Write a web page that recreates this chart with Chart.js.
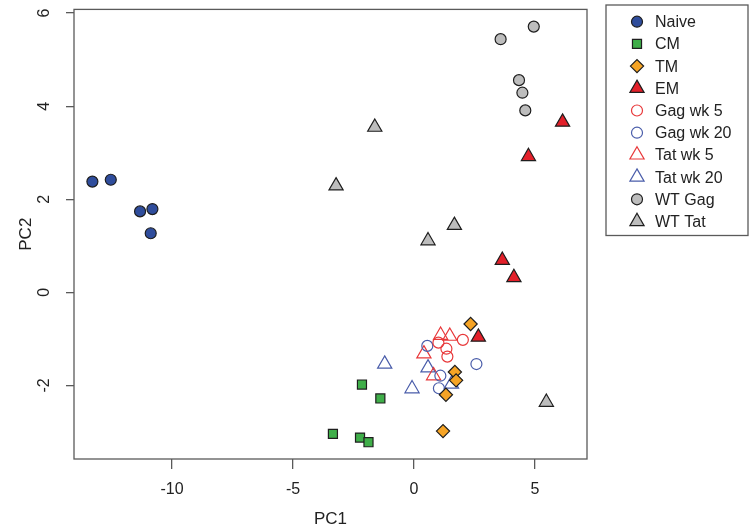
<!DOCTYPE html>
<html>
<head>
<meta charset="utf-8">
<script src="https://cdn.jsdelivr.net/npm/chart.js"></script>
<style>
  body { margin: 0; background: #fff; }
  #pca { display: block; }
</style>
</head>
<body>
<canvas id="pca" width="754" height="530"></canvas>
<script>
// ---------- DATA ----------
const groupNames = ["Naive", "CM", "TM", "EM", "Gag wk 5", "Gag wk 20", "Tat wk 5", "Tat wk 20", "WT Gag", "WT Tat"];

const naivePC1 = [-13.29, -12.53, -11.32, -10.81, -10.88];
const naivePC2 = [2.38, 2.42, 1.74, 1.79, 1.27];

const cmPC1 = [-2.15, -1.39, -3.35, -2.23, -1.88];
const cmPC2 = [-1.98, -2.28, -3.04, -3.12, -3.22];

const tmPC1 = [2.34, 1.69, 1.74, 1.32, 1.20];
const tmPC2 = [-0.68, -1.71, -1.89, -2.20, -2.98];

const emPC1 = [6.14, 4.73, 3.65, 4.13, 2.66];
const emPC2 = [3.66, 2.92, 0.69, 0.32, -0.96];

const gag5PC1 = [1.01, 1.34, 1.38, 2.02];
const gag5PC2 = [-1.08, -1.21, -1.38, -1.02];

const gag20PC1 = [0.55, 2.58, 1.09, 1.03];
const gag20PC2 = [-1.15, -1.54, -1.79, -2.06];

const tat5PC1 = [1.10, 1.48, 0.41, 0.81];
const tat5PC2 = [-0.92, -0.94, -1.32, -1.79];

const tat20PC1 = [-1.21, 0.58, -0.08, 1.55];
const tat20PC2 = [-1.54, -1.62, -2.07, -1.97];

const wtGagPC1 = [4.95, 3.58, 4.34, 4.48, 4.60];
const wtGagPC2 = [5.71, 5.44, 4.56, 4.29, 3.91];

const wtTatPC1 = [-1.62, -3.22, 1.67, 0.58, 5.47];
const wtTatPC2 = [3.55, 2.29, 1.44, 1.11, -2.36];

const xTicks = [-10, -5, 0, 5];
const yTicks = [-2, 0, 2, 4, 6];

// ---------- STYLE ----------
const FONT = "'Liberation Sans', Arial, Helvetica, sans-serif";
const EDGE = "#1e1e1e";
const AXIS = "#5a5a5a";

const styles = [
  { shape: "circle",   r: 5.5, fill: "#2f4d9c", stroke: EDGE },
  { shape: "rect",     r: 6.4, fill: "#3fae49", stroke: EDGE },
  { shape: "rectRot",  r: 6.6, fill: "#f6a425", stroke: EDGE },
  { shape: "triangle", r: 8.2, fill: "#e3202a", stroke: EDGE },
  { shape: "circle",   r: 5.5, fill: "rgba(0,0,0,0)", stroke: "#e8383a" },
  { shape: "circle",   r: 5.5, fill: "rgba(0,0,0,0)", stroke: "#4a5daa" },
  { shape: "triangle", r: 8.2, fill: "rgba(0,0,0,0)", stroke: "#e8383a" },
  { shape: "triangle", r: 8.2, fill: "rgba(0,0,0,0)", stroke: "#4a5daa" },
  { shape: "circle",   r: 5.5, fill: "#bdbdbd", stroke: EDGE },
  { shape: "triangle", r: 8.2, fill: "#bdbdbd", stroke: EDGE }
];

const xs = [naivePC1, cmPC1, tmPC1, emPC1, gag5PC1, gag20PC1, tat5PC1, tat20PC1, wtGagPC1, wtTatPC1];
const ys = [naivePC2, cmPC2, tmPC2, emPC2, gag5PC2, gag20PC2, tat5PC2, tat20PC2, wtGagPC2, wtTatPC2];

// open symbols sit underneath the filled ones
const drawOrder = [0, 0, 0, 0, 1, 1, 1, 1, 0, 0];

const datasets = groupNames.map((name, i) => ({
  label: name,
  data: xs[i].map((x, k) => ({ x, y: ys[i][k] })),
  pointStyle: styles[i].shape,
  pointRadius: styles[i].r,
  pointHoverRadius: styles[i].r,
  pointBackgroundColor: styles[i].fill,
  pointBorderColor: styles[i].stroke,
  pointBorderWidth: 1.2,
  order: drawOrder[i]
}));

// ---------- PLUGINS ----------
// R-style box around the plot region
const frame = {
  id: "frame",
  afterDatasetsDraw(chart) {
    const { ctx, chartArea: a } = chart;
    ctx.save();
    ctx.strokeStyle = AXIS;
    ctx.lineWidth = 1.3;
    ctx.strokeRect(a.left, a.top, a.right - a.left, a.bottom - a.top);
    ctx.restore();
  }
};

// boxed legend to the right, like base R legend()
const boxLegend = {
  id: "boxLegend",
  afterDraw(chart) {
    const ctx = chart.ctx;
    const left = 606, top = 5, right = 748, rowH = 22.2, firstRow = 21.7;
    const bottom = firstRow + rowH * (groupNames.length - 1) + 14;
    ctx.save();
    ctx.strokeStyle = AXIS;
    ctx.lineWidth = 1.3;
    ctx.strokeRect(left, top, right - left, bottom - top);
    ctx.font = "16px " + FONT;
    ctx.textBaseline = "middle";
    ctx.textAlign = "left";
    groupNames.forEach((name, i) => {
      const y = firstRow + rowH * i;
      ctx.fillStyle = styles[i].fill;
      ctx.strokeStyle = styles[i].stroke;
      ctx.lineWidth = 1.2;
      Chart.helpers.drawPoint(ctx, {
        pointStyle: styles[i].shape,
        radius: styles[i].r,
        rotation: 0,
        borderWidth: 1.2
      }, 637, y);
      ctx.fillStyle = "#222";
      ctx.fillText(name, 655, y + 1);
    });
    ctx.restore();
  }
};

// ---------- CHART ----------
new Chart(document.getElementById("pca"), {
  type: "scatter",
  data: { datasets },
  options: {
    responsive: false,
    animation: false,
    events: [],
    layout: { padding: { left: 0, top: 5, right: 167, bottom: 0 } },
    plugins: {
      legend: { display: false },
      tooltip: { enabled: false }
    },
    scales: {
      x: {
        type: "linear",
        min: -14.05,
        max: 7.15,
        afterBuildTicks: s => { s.ticks = xTicks.map(v => ({ value: v })); },
        afterFit: s => { s.height = 71; s.paddingLeft = 0; s.paddingRight = 0; },
        grid: { drawOnChartArea: false, drawTicks: true, tickLength: 10, color: AXIS, lineWidth: 1.3 },
        border: { display: false },
        ticks: {
          font: { size: 16, family: FONT },
          color: "#222",
          padding: 11,
          maxRotation: 0,
          autoSkip: false
        },
        title: {
          display: true,
          text: "PC1",
          font: { size: 17, family: FONT },
          color: "#222",
          padding: { top: 0, bottom: 0 }
        }
      },
      y: {
        type: "linear",
        min: -3.58,
        max: 6.08,
        afterBuildTicks: s => { s.ticks = yTicks.map(v => ({ value: v })); },
        afterFit: s => { s.width = 74; s.paddingTop = 0; s.paddingBottom = 0; },
        grid: { drawOnChartArea: false, drawTicks: true, tickLength: 8, color: AXIS, lineWidth: 1.3 },
        border: { display: false },
        ticks: {
          font: { size: 16, family: FONT },
          color: "#222",
          padding: 14,
          minRotation: 90,
          maxRotation: 90,
          crossAlign: "center",
          autoSkip: false
        },
        title: {
          display: true,
          text: "PC2",
          font: { size: 17, family: FONT },
          color: "#222",
          padding: { top: 16, bottom: 0 }
        }
      }
    }
  },
  plugins: [frame, boxLegend]
});
</script>
</body>
</html>
